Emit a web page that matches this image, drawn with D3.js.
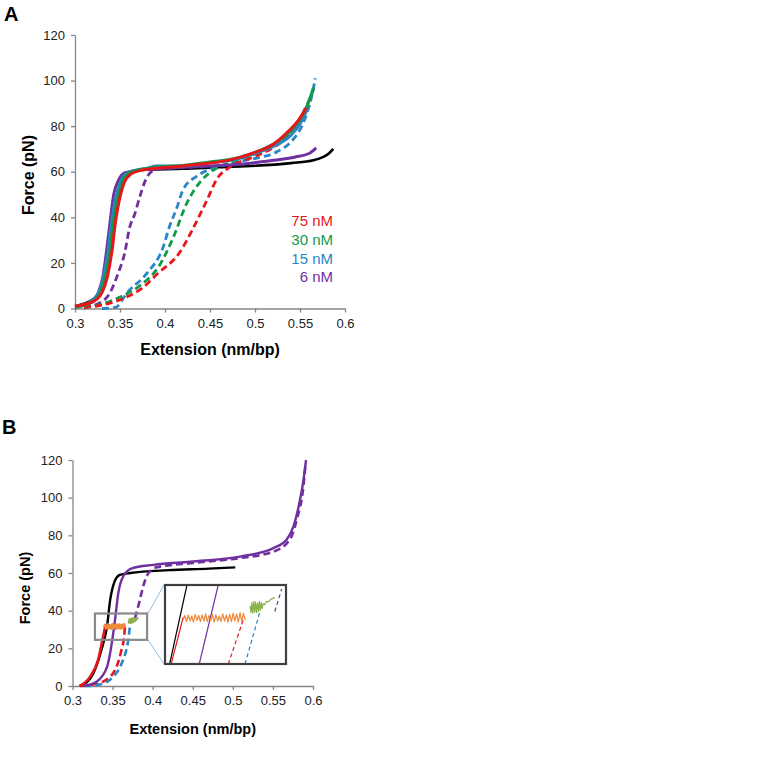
<!DOCTYPE html>
<html>
<head>
<meta charset="utf-8">
<script src="https://cdn.jsdelivr.net/npm/d3@7"></script>
<style>
  body { margin: 0; background: #fff; }
  svg { display: block; font-family: "Liberation Sans", Arial, sans-serif; }
  .axis path, .axis line { stroke: #868686; stroke-width: 1.3; }
  .axis text { fill: #222; font-size: 13px; }
</style>
</head>
<body>
<div id="chart"></div>
<script>
// ticks
var xTicks = [0.3, 0.35, 0.4, 0.45, 0.5, 0.55, 0.6];
var yTicks = [0, 20, 40, 60, 80, 100, 120];

// legend of panel A
var legendLabels = ["75 nM", "30 nM", "15 nM", "6 nM"];

// ---- panel A: [extension nm/bp, force pN]
var blackA = [[0.30,1],[0.32,4],[0.33,10],[0.337,22],[0.342,38],[0.348,50],[0.355,57],[0.362,60],[0.38,61],[0.42,61.3],[0.46,62],[0.5,62.6],[0.54,63.8],[0.565,65],[0.576,66.5],[0.582,68],[0.587,70]];
var purpleA = [[0.30,0.5],[0.318,3],[0.326,7],[0.331,14],[0.335,25],[0.339,38],[0.343,50],[0.348,56],[0.355,59.5],[0.365,60.3],[0.4,61.5],[0.45,62.5],[0.49,63.5],[0.51,64.5],[0.53,65.5],[0.545,66.5],[0.56,68],[0.568,70.5]];
var blueA = [[0.30,1],[0.315,2.5],[0.325,6],[0.331,13],[0.336,23],[0.34,36],[0.345,48],[0.35,55],[0.356,59],[0.365,60.5],[0.38,61.5],[0.39,62.5],[0.42,62.5],[0.45,64],[0.48,65.5],[0.5,68],[0.52,71],[0.54,76],[0.55,81],[0.56,89]];
var greenA = [[0.30,0.5],[0.318,2.5],[0.327,6],[0.333,13],[0.338,23],[0.342,36],[0.347,48],[0.352,55],[0.358,59],[0.367,60.5],[0.39,62],[0.42,62.7],[0.45,64.3],[0.48,66],[0.5,68.5],[0.52,72],[0.54,78],[0.55,83],[0.558,89],[0.565,97]];
var redA = [[0.30,1],[0.32,3],[0.33,7],[0.336,14],[0.341,25],[0.345,38],[0.35,49],[0.355,55.5],[0.362,59],[0.372,60.5],[0.39,61.5],[0.42,62.5],[0.45,63.8],[0.47,65],[0.5,68.5],[0.52,72],[0.535,77],[0.547,82],[0.557,88]];
var purpleDashA = [[0.31,0.5],[0.325,2],[0.339,7],[0.348,15.5],[0.355,24],[0.361,36],[0.366,41],[0.372,49],[0.378,56],[0.385,60],[0.4,61.5],[0.43,62]];
var blueDashA = [[0.33,0],[0.345,0.5],[0.358,7],[0.38,15.5],[0.398,27],[0.405,36],[0.413,44],[0.42,52],[0.435,58],[0.453,61.5],[0.476,64],[0.502,66],[0.524,68.7],[0.542,74],[0.552,80],[0.558,86],[0.563,93],[0.567,101]];
var greenDashA = [[0.31,0.5],[0.33,2],[0.35,5],[0.372,10],[0.394,19],[0.409,31],[0.424,46],[0.439,55.5],[0.453,60.5],[0.469,63.5],[0.49,66.5],[0.51,69.5],[0.53,74],[0.545,80],[0.555,87],[0.565,96]];
var redDashA = [[0.31,0.5],[0.33,1.5],[0.357,5],[0.375,9],[0.391,15],[0.417,25],[0.431,35],[0.446,47],[0.458,57],[0.472,62],[0.498,66.5],[0.52,70.5],[0.54,77],[0.552,84],[0.556,88]];

// ---- panel B
var blackB = [[0.309,0],[0.318,2],[0.326,6.7],[0.336,19],[0.343,31.5],[0.347,45.7],[0.353,56],[0.359,59],[0.372,60],[0.42,61.5],[0.47,62.3],[0.503,63]];
var redB = [[0.309,0],[0.322,5],[0.332,14],[0.338,26],[0.341,32]];
var redDashB = [[0.31,0],[0.322,0.5],[0.338,2.3],[0.353,8.5],[0.358,14],[0.361,19],[0.364,25],[0.3655,31.5]];
var blueDashB = [[0.315,0],[0.334,0.8],[0.351,5],[0.358,9],[0.363,13.8],[0.367,19],[0.3696,24.4],[0.3717,32.4]];
var purpleB = [[0.3135,0],[0.33,2.3],[0.343,10],[0.349,22.7],[0.353,35],[0.357,49],[0.363,58],[0.374,62.5],[0.401,64.3],[0.447,66],[0.509,68.7],[0.5505,73.2],[0.567,77.6],[0.5755,84.6],[0.582,95.2],[0.588,109],[0.5913,120]];
var purpleDashB = [[0.378,36],[0.384,45.7],[0.388,52.7],[0.3945,59.8],[0.405,63],[0.45,65.3],[0.51,68],[0.5505,71.3],[0.571,77.6],[0.5797,88.3],[0.588,106],[0.5905,117]];
var orangeB = [[0.339,31.2],[0.3405,32.6],[0.342,30.4],[0.3435,32.8],[0.345,30.6],[0.3465,32.4],[0.348,30.3],[0.3495,32.9],[0.351,30.5],[0.3525,32.5],[0.354,30.2],[0.3555,32.7],[0.357,30.6],[0.3585,32.8],[0.36,30.4],[0.3615,32.6],[0.363,30.5],[0.3645,32.9],[0.366,31.0]];
var greenNoiseB = [[0.370,33.2],[0.371,35.5],[0.372,33.4],[0.373,35.8],[0.374,33.6],[0.375,36],[0.376,34],[0.377,35.8],[0.378,34.5],[0.380,35.5],[0.382,36.2]];

// zoomed window shown in the inset: [x0, x1], [f0, f1]
var zoomX = [0.328, 0.393];
var zoomF = [24.5, 38.5];

// inset traces
var insetBlack = [[0.3305,24.5],[0.3398,38.5]];
var insetRed = [[0.3313,24.5],[0.3378,32.8]];
var insetPurple = [[0.3464,24.5],[0.3566,38.5]];
var insetRedDash = [[0.3620,24.5],[0.3701,32.4]];
var insetBlueDash = [[0.3710,24.5],[0.3790,33.8]];
var insetPurpleDash = [[0.3870,33.8],[0.3907,37.8]];
var insetOrange = [[0.3378,32.4],[0.3387,33.1],[0.3396,32.0],[0.3405,33.2],[0.3415,32.1],[0.3424,33.0],[0.3433,31.9],[0.3442,33.3],[0.3452,32.2],[0.3461,33.1],[0.3470,32.0],[0.3479,33.2],[0.3489,32.1],[0.3498,33.4],[0.3507,32.0],[0.3516,33.1],[0.3526,32.2],[0.3535,33.3],[0.3544,31.9],[0.3553,33.2],[0.3563,32.1],[0.3572,33.0],[0.3581,32.0],[0.3590,33.4],[0.3600,32.1],[0.3609,33.2],[0.3618,31.9],[0.3627,33.3],[0.3637,32.0],[0.3646,33.5],[0.3655,32.1],[0.3664,33.4],[0.3674,31.9],[0.3683,33.6],[0.3692,32.0],[0.3701,33.5],[0.3711,32.3]];
var insetGreen = [[0.3737,34.8],[0.3742,33.6],[0.3747,35.4],[0.3752,33.5],[0.3757,35.6],[0.3762,33.7],[0.3767,35.5],[0.3772,33.6],[0.3777,35.3],[0.3782,33.8],[0.3787,35.6],[0.3792,34.0],[0.3797,35.4],[0.3802,34.3],[0.3807,35.2],[0.3815,35.0],[0.3825,35.6],[0.3835,35.5],[0.3850,36.0],[0.3870,36.3]];

var RED = "#e8161b", GREEN = "#119a48", BLUE = "#2a86c9", PURPLE = "#7030a0",
    ORANGE = "#ee8a3c", OLIVE = "#8bb04a";

var svg = d3.select("#chart").append("svg")
    .attr("width", 778)
    .attr("height", 773);

function drawAxes(x, y, titleSize, xTitleY, yTitleX, yTitleY) {
    svg.append("g")
        .attr("class", "axis")
        .attr("transform", "translate(0," + y(0) + ")")
        .call(d3.axisBottom(x).tickValues(xTicks).tickSize(4).tickSizeOuter(0).tickPadding(6)
            .tickFormat(function (d) { return String(+d.toFixed(2)); }));
    svg.append("g")
        .attr("class", "axis")
        .attr("transform", "translate(" + x(0.3) + ",0)")
        .call(d3.axisLeft(y).tickValues(yTicks).tickSize(4).tickSizeOuter(0).tickPadding(6));
    svg.selectAll(".axis .domain").attr("stroke", "#868686");

    svg.append("text")
        .attr("x", (x.range()[0] + x.range()[1]) / 2)
        .attr("y", xTitleY)
        .attr("text-anchor", "middle")
        .style("font-weight", "bold")
        .style("font-size", titleSize + "px")
        .text("Extension (nm/bp)");
    svg.append("text")
        .attr("transform", "translate(" + yTitleX + "," + yTitleY + ") rotate(-90)")
        .attr("text-anchor", "middle")
        .style("font-weight", "bold")
        .style("font-size", titleSize + "px")
        .text("Force (pN)");
}

function drawLine(x, y, data, color, width, dash, curve) {
    var line = d3.line()
        .x(function (d) { return x(d[0]); })
        .y(function (d) { return y(d[1]); })
        .curve(curve || d3.curveMonotoneX);
    svg.append("path")
        .datum(data)
        .attr("d", line)
        .attr("fill", "none")
        .attr("stroke", color)
        .attr("stroke-width", width)
        .attr("stroke-linejoin", "round")
        .attr("stroke-dasharray", dash || null);
}

// ================= Panel A =================
var xA = d3.scaleLinear().domain([0.3, 0.6]).range([75, 345]);
var yA = d3.scaleLinear().domain([0, 120]).range([308.5, 35]);

svg.append("text").attr("x", 4).attr("y", 21)
    .style("font-weight", "bold").style("font-size", "20px").text("A");

drawAxes(xA, yA, 16, 355, 34, 175);

drawLine(xA, yA, blackA, "#000", 2.6);
drawLine(xA, yA, purpleDashA, PURPLE, 2.8, "7,4");
drawLine(xA, yA, blueDashA, BLUE, 2.8, "7,4");
drawLine(xA, yA, greenDashA, GREEN, 2.8, "7,4");
drawLine(xA, yA, redDashA, RED, 2.8, "7,4");
drawLine(xA, yA, purpleA, PURPLE, 3);
drawLine(xA, yA, blueA, BLUE, 3);
drawLine(xA, yA, greenA, GREEN, 3);
drawLine(xA, yA, redA, RED, 3);

var legendColors = [RED, GREEN, BLUE, PURPLE];
svg.append("g").selectAll("text")
    .data(legendLabels)
    .enter().append("text")
    .attr("x", 333)
    .attr("y", function (d, i) { return 226 + i * 18.8; })
    .attr("text-anchor", "end")
    .attr("fill", function (d, i) { return legendColors[i]; })
    .style("font-size", "15px")
    .text(function (d) { return d; });

// ================= Panel B =================
var xB = d3.scaleLinear().domain([0.3, 0.6]).range([72.5, 313]);
var yB = d3.scaleLinear().domain([0, 120]).range([686, 460]);

svg.append("text").attr("x", 2).attr("y", 434)
    .style("font-weight", "bold").style("font-size", "20px").text("B");

drawAxes(xB, yB, 14.5, 734, 30, 588);

drawLine(xB, yB, blackB, "#000", 2.4);
drawLine(xB, yB, redDashB, RED, 2.6, "7,4");
drawLine(xB, yB, blueDashB, BLUE, 2.6, "7,4");
drawLine(xB, yB, purpleDashB, PURPLE, 2.6, "7,4");
drawLine(xB, yB, redB, RED, 2.6);
drawLine(xB, yB, purpleB, PURPLE, 2.4);
drawLine(xB, yB, orangeB, ORANGE, 2.2, null, d3.curveLinear);
drawLine(xB, yB, greenNoiseB, OLIVE, 2, null, d3.curveLinear);

// zoom window on the main plot
var zx0 = xB(zoomX[0]), zx1 = xB(zoomX[1]), zy0 = yB(zoomF[1]), zy1 = yB(zoomF[0]);
svg.append("rect")
    .attr("x", zx0).attr("y", zy0)
    .attr("width", zx1 - zx0).attr("height", zy1 - zy0)
    .attr("fill", "none").attr("stroke", "#8a8a8a").attr("stroke-width", 2.2);

// inset
var inset = { left: 165, top: 585, right: 286, bottom: 664 };
var xI = d3.scaleLinear().domain(zoomX).range([inset.left, inset.right]);
var yI = d3.scaleLinear().domain(zoomF).range([inset.bottom, inset.top]);

svg.append("g").selectAll("line")
    .data([[zy0, inset.top], [zy1, inset.bottom]])
    .enter().append("line")
    .attr("x1", zx1 + 1).attr("y1", function (d) { return d[0]; })
    .attr("x2", inset.left - 1).attr("y2", function (d) { return d[1]; })
    .attr("stroke", "#8db3e2").attr("stroke-width", 0.9);

svg.append("rect")
    .attr("x", inset.left).attr("y", inset.top)
    .attr("width", inset.right - inset.left).attr("height", inset.bottom - inset.top)
    .attr("fill", "#fff");

svg.append("clipPath").attr("id", "insetClip")
    .append("rect")
    .attr("x", inset.left).attr("y", inset.top)
    .attr("width", inset.right - inset.left).attr("height", inset.bottom - inset.top);

var svgMain = svg;
svg = svgMain.append("g").attr("clip-path", "url(#insetClip)");
drawLine(xI, yI, insetBlack, "#000", 1.2, null, d3.curveLinear);
drawLine(xI, yI, insetRed, RED, 1.2, null, d3.curveLinear);
drawLine(xI, yI, insetPurple, PURPLE, 1.2, null, d3.curveLinear);
drawLine(xI, yI, insetRedDash, RED, 1.2, "4,3", d3.curveLinear);
drawLine(xI, yI, insetBlueDash, BLUE, 1.2, "4,3", d3.curveLinear);
drawLine(xI, yI, insetPurpleDash, PURPLE, 1.2, "4,3", d3.curveLinear);
drawLine(xI, yI, insetOrange, ORANGE, 1.2, null, d3.curveLinear);
drawLine(xI, yI, insetGreen, OLIVE, 1.2, null, d3.curveLinear);
svg = svgMain;

svg.append("rect")
    .attr("x", inset.left).attr("y", inset.top)
    .attr("width", inset.right - inset.left).attr("height", inset.bottom - inset.top)
    .attr("fill", "none").attr("stroke", "#3f3f3f").attr("stroke-width", 2.2);
</script>
</body>
</html>
